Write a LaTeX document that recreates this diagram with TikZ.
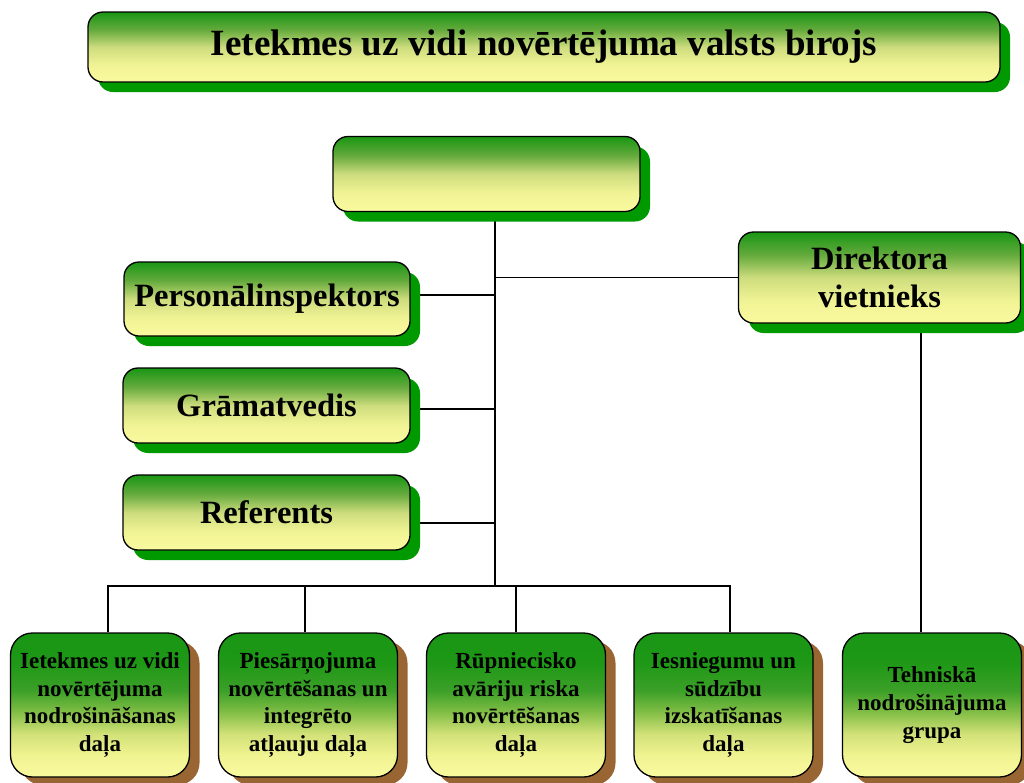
\documentclass[tikz,border=0pt]{standalone}
\usepackage{fontspec}
\setmainfont{Liberation Serif}
\usetikzlibrary{shadows,backgrounds}
\definecolor{gA}{RGB}{25,150,20}
\definecolor{gB}{RGB}{100,170,60}
\definecolor{gC}{RGB}{205,220,125}
\definecolor{yA}{RGB}{240,243,148}
\definecolor{yB}{RGB}{250,250,160}
\definecolor{lB}{RGB}{30,152,22}
\definecolor{lC}{RGB}{60,160,40}
\definecolor{lD}{RGB}{130,190,70}
\definecolor{lE}{RGB}{210,225,120}
\definecolor{lF}{RGB}{240,243,145}
\definecolor{shgreen}{RGB}{0,153,0}
\definecolor{shbrown}{RGB}{153,102,51}
\pgfdeclareverticalshading{upshade}{100bp}{color(0bp)=(yB); color(25bp)=(yB); color(37.5bp)=(yA); color(50bp)=(gC); color(62.5bp)=(gB); color(75bp)=(gA); color(100bp)=(gA)}
\pgfdeclareverticalshading{lowshade}{100bp}{color(0bp)=(yB); color(25bp)=(yB); color(32.5bp)=(lF); color(40bp)=(lE); color(47.5bp)=(lD); color(55bp)=(lC); color(65bp)=(lB); color(75bp)=(gA); color(100bp)=(gA)}
\begin{document}
\begin{tikzpicture}[x=1pt,y=-1pt,
  box/.style={draw=black, line width=1.3pt, inner sep=0pt, align=center},
  upbox/.style={box, rounded corners=15pt, shading=upshade,
    drop shadow={shadow xshift=10pt, shadow yshift=-10pt, fill=shgreen, opacity=1},
    font=\bfseries\fontsize{32.5}{38}\selectfont},
  lowbox/.style={box, rounded corners=22pt, shading=lowshade,
    drop shadow={shadow xshift=10pt, shadow yshift=-8pt, fill=shbrown, opacity=1},
    minimum width=179pt, minimum height=144pt,
    font=\bfseries\fontsize{23}{27.7}\selectfont},
  conn/.style={line width=1.3pt, draw=black}]
\useasboundingbox (0,0) rectangle (1024,782);

\node[upbox, minimum width=912pt, minimum height=70pt,
  font=\bfseries\fontsize{37}{44}\selectfont] (title) at (544,47)
  {Ietekmes uz vidi novērtējuma valsts birojs};
\node[upbox, minimum width=307pt, minimum height=75pt] (top) at (486.5,174) {};
\node[upbox, minimum width=282pt, minimum height=91pt] (dir) at (879.5,277.5)
  {Direktora\\vietnieks};
\node[upbox, minimum width=286pt, minimum height=74pt] (pers) at (267,299)
  {Personālinspektors};
\node[upbox, minimum width=287pt, minimum height=75pt] (gram) at (266.5,405.5)
  {Grāmatvedis};
\node[upbox, minimum width=287pt, minimum height=75pt] (ref) at (266.5,512.5)
  {Referents};

\node[lowbox] (b1) at (100,705) {Ietekmes uz vidi\\novērtējuma\\nodrošināšanas\\daļa};
\node[lowbox] (b2) at (308,705) {Piesārņojuma\\novērtēšanas un\\integrēto\\atļauju daļa};
\node[lowbox] (b3) at (516,705) {Rūpniecisko\\avāriju riska\\novērtēšanas\\daļa};
\node[lowbox] (b4) at (723.5,705) {Iesniegumu un\\sūdzību\\izskatīšanas\\daļa};
\node[lowbox] (b5) at (932,705) {Tehniskā\\nodrošinājuma\\grupa};

\coordinate (t0) at ([xshift=8.5pt]top.south);
\coordinate (bus) at (495,586);
\coordinate (d1) at ([xshift=8pt]b1.north);
\coordinate (d2) at ([xshift=-3pt]b2.north);
\coordinate (d3) at (b3.north);
\coordinate (d4) at ([xshift=6.5pt]b4.north);
\coordinate (d5) at ([xshift=-11pt]b5.north);
\coordinate (pe) at ([yshift=4pt]pers.east);
\coordinate (ge) at ([yshift=-3.5pt]gram.east);
\coordinate (re) at ([yshift=-10.5pt]ref.east);

\begin{scope}[on background layer]
  \fill[white] (0,0) rectangle (1024,782);
  \draw[conn] (t0) -- (bus);
  \draw[conn] (d1) -- (d1 |- bus) -- (d4 |- bus) -- (d4);
  \draw[conn] (d2) -- (d2 |- bus);
  \draw[conn] (d3) -- (d3 |- bus);
  \draw[conn] (dir.west) -- (dir.west -| bus);
  \draw[conn] (d5 |- dir.south) -- (d5);
  \draw[conn] (pe) -- (pe -| bus);
  \draw[conn] (ge) -- (ge -| bus);
  \draw[conn] (re) -- (re -| bus);
\end{scope}
\end{tikzpicture}
\end{document}
